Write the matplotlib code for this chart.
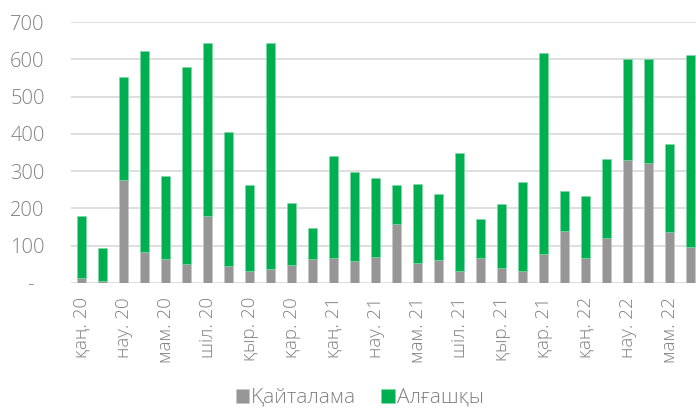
import matplotlib
matplotlib.use("Agg")
import matplotlib.pyplot as plt
import matplotlib.transforms as mtransforms
import numpy as np

months = ["қаң. 20", "ақп. 20", "нау. 20", "сәу. 20", "мам. 20", "мау. 20",
          "шіл. 20", "там. 20", "қыр. 20", "қаз. 20", "қар. 20", "жел. 20",
          "қаң. 21", "ақп. 21", "нау. 21", "сәу. 21", "мам. 21", "мау. 21",
          "шіл. 21", "там. 21", "қыр. 21", "қаз. 21", "қар. 21", "жел. 21",
          "қаң. 22", "ақп. 22", "нау. 22", "сәу. 22", "мам. 22", "мау. 22"]
total = [181, 94, 553, 622, 288, 578, 645, 406, 264, 645, 214, 148,
         341, 298, 282, 264, 265, 240, 348, 171, 212, 272, 617, 248,
         234, 332, 600, 602, 373, 611]
repeat = [13, 5, 276, 82, 65, 51, 179, 46, 32, 37, 48, 65,
          67, 58, 70, 157, 53, 62, 31, 67, 41, 32, 79, 139,
          67, 120, 329, 322, 136, 97]
first = [t - r for t, r in zip(total, repeat)]
yticks = [0, 100, 200, 300, 400, 500, 600, 700]
ylabels = ["-", "100", "200", "300", "400", "500", "600", "700"]

plt.rcParams['font.family'] = ['Open Sans', 'DejaVu Sans']

GRAY = "#969696"
GREEN = "#00B050"
TXT = "#808080"

fig = plt.figure(figsize=(6.96, 4.09), dpi=100)
ax = fig.add_axes([71/696, 1-283/409, 1-71/696, (283-22)/409])

x = np.arange(len(months))
ax.bar(x, repeat, width=0.42, color=GRAY, edgecolor="#c8c8c8", linewidth=0.4,
       label="Қайталама", zorder=3)
ax.bar(x, first, bottom=repeat, width=0.42, color=GREEN, edgecolor="#7fd8a7",
       linewidth=0.4, label="Алғашқы", zorder=3)

ax.set_xlim(-0.5, 29.26)
ax.set_ylim(0, 700)
ax.set_yticks(yticks)
ax.set_yticklabels(ylabels)
ax.yaxis.grid(True, color="#d9d9d9", linewidth=1.2, zorder=0)
ax.set_axisbelow(True)
for s in ax.spines.values():
    s.set_visible(False)
ax.tick_params(axis='y', length=0, pad=19, labelsize=14.5, labelcolor=TXT)
ax.tick_params(axis='x', length=0, pad=10, labelsize=13.5, labelcolor=TXT)
ax.set_xticks(x[::2])
ax.set_xticklabels(months[::2], rotation=90, fontweight=300)
for lab in ax.get_yticklabels():
    lab.set_fontweight(300)
# shift "-" label left like Excel accounting format
lab0 = ax.get_yticklabels()[0]
lab0.set_transform(lab0.get_transform() + mtransforms.ScaledTranslation(-11/100, 0, fig.dpi_scale_trans))

leg = fig.legend(loc="center", bbox_to_anchor=(0.517, 1-398/409), ncol=2, frameon=False,
                 fontsize=15, handlelength=0.65, handleheight=0.65, handletextpad=0.1,
                 columnspacing=1.2)
for t in leg.get_texts():
    t.set_color(TXT)
    t.set_fontweight(300)

fig.savefig("out.png", dpi=100)
